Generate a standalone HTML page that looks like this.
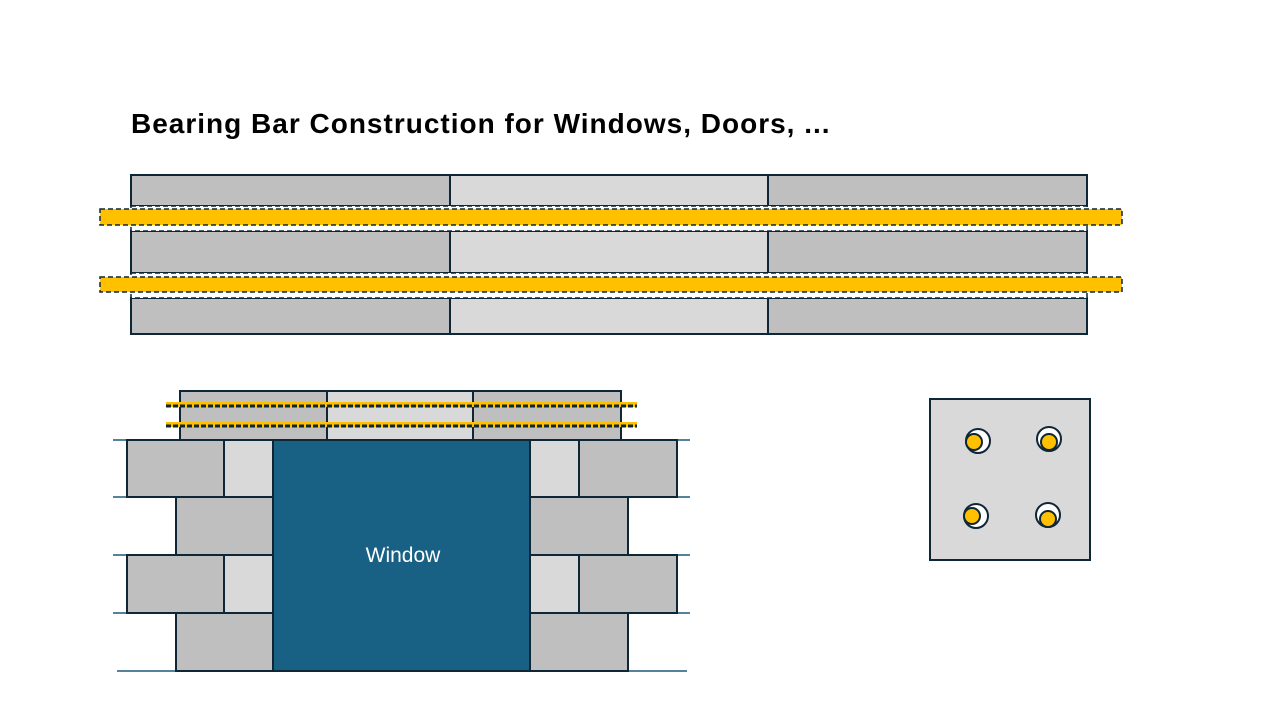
<!DOCTYPE html>
<html><head><meta charset="utf-8"><style>
html,body{margin:0;padding:0;background:#fff;width:1280px;height:720px;overflow:hidden}
.t{position:absolute;left:131px;top:108px;font-family:"Liberation Sans",sans-serif;font-weight:bold;font-size:28px;color:#000;white-space:nowrap;letter-spacing:1px}
</style></head><body>
<div class="t">Bearing Bar Construction for Windows, Doors, ...</div>
<svg width="1280" height="720" style="position:absolute;left:0;top:0">
<g stroke="#0e2636" stroke-width="2">
<rect x="131" y="175" width="319" height="31" fill="#bfbfbf"/>
<rect x="450" y="175" width="318" height="31" fill="#d9d9d9"/>
<rect x="768" y="175" width="319" height="31" fill="#bfbfbf"/>
<rect x="131" y="231" width="319" height="42" fill="#bfbfbf"/>
<rect x="450" y="231" width="318" height="42" fill="#d9d9d9"/>
<rect x="768" y="231" width="319" height="42" fill="#bfbfbf"/>
<rect x="131" y="298" width="319" height="36" fill="#bfbfbf"/>
<rect x="450" y="298" width="318" height="36" fill="#d9d9d9"/>
<rect x="768" y="298" width="319" height="36" fill="#bfbfbf"/>
</g>
<g stroke="#0e2636" stroke-width="1.5" stroke-dasharray="5,3" fill="none">
<rect x="131" y="206" width="956" height="25" fill="#fff"/>
<rect x="131" y="273" width="956" height="25" fill="#fff"/>
<rect x="100" y="209" width="1022" height="16" fill="#ffc000"/>
<rect x="100" y="277" width="1022" height="15" fill="#ffc000"/>
</g>
<g stroke="#0e2636" stroke-width="2">
<rect x="180" y="391" width="147" height="49" fill="#bfbfbf"/>
<rect x="327" y="391" width="146" height="49" fill="#d9d9d9"/>
<rect x="473" y="391" width="148" height="49" fill="#bfbfbf"/>
</g>
<g>
<rect x="166" y="402" width="471" height="5" fill="#ffc000"/>
<line x1="166" y1="406" x2="637" y2="406" stroke="#0e2636" stroke-width="3" stroke-dasharray="5,2"/>
<rect x="166" y="422" width="471" height="5" fill="#ffc000"/>
<line x1="166" y1="426" x2="637" y2="426" stroke="#0e2636" stroke-width="3" stroke-dasharray="5,2"/>
</g>
<g stroke="#1f5a7a" stroke-width="1.5">
<line x1="113" y1="440" x2="690" y2="440"/>
<line x1="113" y1="497" x2="690" y2="497"/>
<line x1="113" y1="555" x2="690" y2="555"/>
<line x1="113" y1="613" x2="690" y2="613"/>
<line x1="117" y1="671" x2="687" y2="671"/>
</g>
<g stroke="#0e2636" stroke-width="2">
<rect x="127" y="440" width="97" height="57" fill="#bfbfbf"/>
<rect x="224" y="440" width="49" height="57" fill="#d9d9d9"/>
<rect x="530" y="440" width="49" height="57" fill="#d9d9d9"/>
<rect x="579" y="440" width="98" height="57" fill="#bfbfbf"/>
<rect x="176" y="497" width="97" height="58" fill="#bfbfbf"/>
<rect x="530" y="497" width="98" height="58" fill="#bfbfbf"/>
<rect x="127" y="555" width="97" height="58" fill="#bfbfbf"/>
<rect x="224" y="555" width="49" height="58" fill="#d9d9d9"/>
<rect x="530" y="555" width="49" height="58" fill="#d9d9d9"/>
<rect x="579" y="555" width="98" height="58" fill="#bfbfbf"/>
<rect x="176" y="613" width="97" height="58" fill="#bfbfbf"/>
<rect x="530" y="613" width="98" height="58" fill="#bfbfbf"/>
<rect x="273" y="440" width="257" height="231" fill="#186184"/>
</g>
<text x="403" y="562" text-anchor="middle" font-family="Liberation Sans, sans-serif" font-size="21" fill="#fff">Window</text>
<rect x="930" y="399" width="160" height="161" fill="#d9d9d9" stroke="#0e2636" stroke-width="2"/>
<g stroke="#0e2636" stroke-width="2">
<circle cx="978" cy="441" r="12" fill="#fff"/><circle cx="974" cy="442" r="8" fill="#ffc000"/>
<circle cx="1049" cy="439" r="12" fill="#fff"/><circle cx="1049" cy="442" r="8" fill="#ffc000"/>
<circle cx="976" cy="516" r="12" fill="#fff"/><circle cx="972" cy="516" r="8" fill="#ffc000"/>
<circle cx="1048" cy="515" r="12" fill="#fff"/><circle cx="1048" cy="519" r="8" fill="#ffc000"/>
</g>
</svg>
</body></html>
